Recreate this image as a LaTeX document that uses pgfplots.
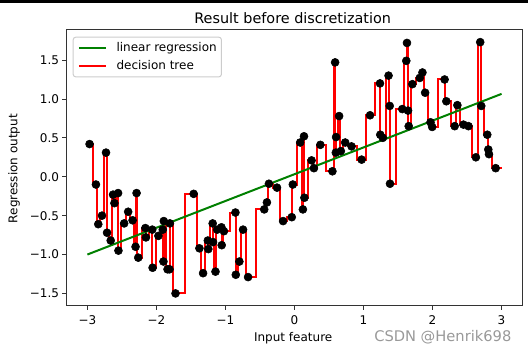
\documentclass[border=0pt]{standalone}
\usepackage{pgfplots}
\pgfplotsset{compat=1.18}
\usepackage{pgfplotstable}
\usepackage{fontspec}
\setmainfont{DejaVu Sans}

\pgfplotstableread{
x y
-2.968 0.42
-2.876 -0.10
-2.842 -0.61
-2.788 -0.50
-2.730 0.31
-2.715 -0.72
-2.662 -0.82
-2.628 -0.23
-2.608 -0.34
-2.555 -0.21
-2.550 -0.95
-2.467 -0.60
-2.409 -0.45
-2.345 -0.56
-2.302 -0.90
-2.287 -0.21
-2.263 -1.04
-2.160 -0.66
-2.152 -0.78
-2.060 -0.68
-2.055 -1.17
-1.971 -0.76
-1.908 -0.68
-1.898 -1.09
-1.893 -0.57
-1.839 -1.19
-1.810 -1.19
-1.805 -0.60
-1.723 -1.50
-1.460 -0.22
-1.377 -0.92
-1.324 -1.24
-1.255 -0.82
-1.248 -0.93
-1.185 -0.60
-1.180 -0.84
-1.144 -1.22
-1.119 -0.68
-1.058 -0.65
-1.054 -0.88
-1.022 -0.70
-0.855 -0.46
-0.850 -1.26
-0.798 -1.09
-0.745 -0.68
-0.672 -1.29
-0.438 -0.42
-0.399 -0.33
-0.370 -0.09
-0.253 -0.14
-0.165 -0.57
-0.039 -0.52
-0.024 -0.10
0.083 0.44
0.122 -0.42
0.138 0.52
0.144 -0.27
0.248 0.21
0.282 0.11
0.375 0.41
0.550 0.07
0.589 1.47
0.599 0.31
0.603 0.51
0.647 0.78
0.672 0.33
0.735 0.44
0.827 0.39
0.973 0.22
1.095 0.79
1.239 1.20
1.243 0.54
1.280 0.50
1.363 1.30
1.380 0.91
1.384 -0.09
1.562 0.87
1.620 1.49
1.630 1.72
1.645 0.85
1.655 0.65
1.708 1.19
1.815 1.27
1.854 1.34
1.893 1.08
1.971 0.70
1.995 0.64
2.175 1.25
2.200 0.97
2.321 0.65
2.360 0.92
2.448 0.67
2.521 0.65
2.628 0.25
2.691 1.73
2.706 0.91
2.793 0.54
2.808 0.35
2.818 0.29
2.915 0.11
}\pts

\pgfplotstableread{
x y
-3.000 0.42
-2.968 0.42
-2.876 -0.10
-2.842 -0.61
-2.788 -0.50
-2.730 0.31
-2.715 -0.72
-2.662 -0.82
-2.628 -0.23
-2.608 -0.34
-2.555 -0.21
-2.550 -0.95
-2.467 -0.60
-2.409 -0.45
-2.345 -0.56
-2.302 -0.90
-2.287 -0.21
-2.263 -1.04
-2.160 -0.66
-2.152 -0.78
-2.060 -0.68
-2.055 -1.17
-1.971 -0.76
-1.908 -0.68
-1.898 -1.09
-1.893 -0.57
-1.839 -1.19
-1.810 -1.19
-1.805 -0.60
-1.723 -1.50
-1.460 -0.22
-1.377 -0.92
-1.324 -1.24
-1.255 -0.82
-1.248 -0.93
-1.185 -0.60
-1.180 -0.84
-1.144 -1.22
-1.119 -0.68
-1.058 -0.65
-1.054 -0.88
-1.022 -0.70
-0.855 -0.46
-0.850 -1.26
-0.798 -1.09
-0.745 -0.68
-0.672 -1.29
-0.438 -0.42
-0.399 -0.33
-0.370 -0.09
-0.253 -0.14
-0.165 -0.57
-0.039 -0.52
-0.024 -0.10
0.083 0.44
0.122 -0.42
0.138 0.52
0.144 -0.27
0.248 0.21
0.282 0.11
0.375 0.41
0.550 0.07
0.589 1.47
0.599 0.31
0.603 0.51
0.647 0.78
0.672 0.33
0.735 0.44
0.827 0.39
0.973 0.22
1.095 0.79
1.239 1.20
1.243 0.54
1.280 0.50
1.363 1.30
1.380 0.91
1.384 -0.09
1.562 0.87
1.620 1.49
1.630 1.72
1.645 0.85
1.655 0.65
1.708 1.19
1.815 1.27
1.854 1.34
1.893 1.08
1.971 0.70
1.995 0.64
2.175 1.25
2.200 0.97
2.321 0.65
2.360 0.92
2.448 0.67
2.521 0.65
2.628 0.25
2.691 1.73
2.706 0.91
2.793 0.54
2.808 0.35
2.818 0.29
2.915 0.11
3.000 0.11
}\tree

\pgfplotstableread{
x y
-3 -1.000
3 1.065
}\linreg

\begin{document}
\begin{tikzpicture}
\useasboundingbox (0,0) rectangle (396pt,264pt);
\fill[black] (0,261.5pt) rectangle (396pt,264pt);
\begin{axis}[
  at={(50pt,35pt)}, anchor=south west,
  scale only axis, width=341.7pt, height=207pt,
  xmin=-3.3, xmax=3.3, ymin=-1.653, ymax=1.895,
  axis line style={black!80, line width=0.72pt},
  tick align=outside, tick pos=left,
  major tick length=3.2pt,
  tick style={black!80, line width=0.6pt},
  xtick={-3,-2,-1,0,1,2,3},
  xticklabels={−3,−2,−1,0,1,2,3},
  ytick={-1.5,-1,-0.5,0,0.5,1,1.5},
  yticklabels={−1.5,−1.0,−0.5,0.0,0.5,1.0,1.5},
  ticklabel style={font=\fontsize{9}{10.8}\selectfont, inner sep=0pt},
  xticklabel style={anchor=north, yshift=-4.6pt},
  yticklabel style={anchor=east, xshift=-2.3pt},
  legend cell align=left,
  legend image code/.code={\draw[#1] (0pt,0pt) -- (20pt,0pt);},
  legend style={at={(0,1)}, anchor=north west, xshift=4.5pt, yshift=-5.5pt,
    draw=black!20, line width=0.75pt, rounded corners=2pt,
    fill=white, fill opacity=0.8, text opacity=1,
    font=\fontsize{9}{10.8}\selectfont,
    inner xsep=3.5pt, inner ysep=3.5pt, row sep=4.8pt,
    nodes={inner sep=0pt, text height=7pt, text depth=2pt},
    /tikz/every odd column/.append style={column sep=7.5pt}},
]
\addlegendimage{green!50!black, line width=1.5pt}
\addlegendentry{linear regression}
\addlegendimage{red, line width=1.5pt}
\addlegendentry{decision tree}
\addplot[red, line width=1.5pt, const plot mark mid, forget plot] table {\tree};
\addplot[green!50!black, line width=1.5pt, forget plot] table {\linreg};
\addplot[only marks, mark=*, mark size=3pt, black, forget plot] table {\pts};
\end{axis}
\node[anchor=base, font=\fontsize{10.8}{13}\selectfont] at (219.5pt,246.5pt) {Result before discretization};
\node[anchor=base, font=\fontsize{9}{10.8}\selectfont] at (219.9pt,7.7pt) {Input feature};
\node[anchor=base, rotate=90, font=\fontsize{9}{10.8}\selectfont] at (13pt,137.5pt) {Regression output};
\node[anchor=base west, inner sep=0pt, font=\fontsize{11}{13}\selectfont, text=black!40] at (280.5pt,7.7pt) {CSDN @Henrik698};
\end{tikzpicture}
\end{document}
